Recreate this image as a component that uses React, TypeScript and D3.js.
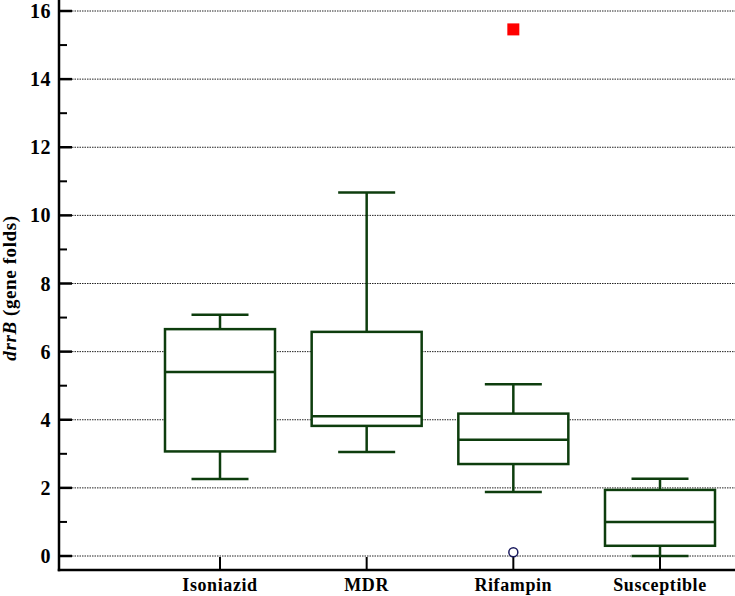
import React from "react";
import * as d3 from "d3";

const categories = ["Isoniazid", "MDR", "Rifampin", "Susceptible"];
const whiskerLow = [2.26, 3.05, 1.88, 0.0];
const q1 = [3.07, 3.82, 2.7, 0.3];
const median = [5.4, 4.1, 3.41, 1.0];
const q3 = [6.66, 6.58, 4.18, 1.94];
const whiskerHigh = [7.08, 10.67, 5.04, 2.27];
const outsideCategories = ["Rifampin"];
const outsideValues = [0.11];
const farOutCategories = ["Rifampin"];
const farOutValues = [15.46];
const yTicks = [0, 2, 4, 6, 8, 10, 12, 14, 16];
const yMinorTicks = [1, 3, 5, 7, 9, 11, 13, 15];

const W = 735;
const H = 596;
const BOX = "#0d3d0d";
const FONT = "'Liberation Serif', 'Times New Roman', serif";

export default function App() {
  const y = d3.scaleLinear().domain([0, 16]).range([556, 11]);
  const x = d3.scalePoint<string>().domain(categories).range([220, 660]);
  const axisX = 59;
  const axisY = 570;
  const boxHalf = 55;
  const capHalf = 28.5;

  return (
    <svg
      width={W}
      height={H}
      style={{ position: "absolute", left: 0, top: 0, background: "#fff" }}
    >
      {/* gridlines */}
      {yTicks.map((t) => (
        <line
          key={"g" + t}
          x1={72}
          x2={W}
          y1={y(t)}
          y2={y(t)}
          stroke="#222"
          strokeWidth={1}
          strokeDasharray="1.5,1"
        />
      ))}
      {/* axes */}
      <line x1={axisX} x2={axisX} y1={0} y2={axisY + 1.25} stroke="#000" strokeWidth={2.5} />
      <line x1={axisX - 1.25} x2={W} y1={axisY} y2={axisY} stroke="#000" strokeWidth={2.5} />
      {yTicks.map((t) => (
        <g key={"t" + t}>
          <line x1={axisX} x2={72} y1={y(t)} y2={y(t)} stroke="#000" strokeWidth={2.5} />
          <text
            x={51}
            y={y(t)}
            textAnchor="end"
            dominantBaseline="central"
            fontFamily={FONT}
            fontWeight="bold"
            fontSize={20}
            letterSpacing={0.5}
          >
            {t}
          </text>
        </g>
      ))}
      {yMinorTicks.map((t) => (
        <line key={"m" + t} x1={axisX} x2={67} y1={y(t)} y2={y(t)} stroke="#000" strokeWidth={2} />
      ))}
      {/* x ticks and labels */}
      {categories.map((c) => (
        <g key={"x" + c}>
          <line x1={x(c)} x2={x(c)} y1={axisY} y2={axisY - 13} stroke="#000" strokeWidth={2} />
          <text
            x={x(c)}
            y={591}
            textAnchor="middle"
            fontFamily={FONT}
            fontWeight="bold"
            fontSize={18}
            letterSpacing={0.6}
          >
            {c}
          </text>
        </g>
      ))}
      {/* y label */}
      <text
        transform={`translate(16,288) rotate(-90)`}
        textAnchor="middle"
        fontFamily={FONT}
        fontWeight="bold"
        fontSize={19}
        letterSpacing={0.6}
      >
        <tspan fontStyle="italic">drrB</tspan> (gene folds)
      </text>
      {/* boxes */}
      {categories.map((c, i) => {
        const cx = x(c)!;
        return (
          <g key={"b" + c} stroke={BOX} strokeWidth={2.5} fill="none">
            <line x1={cx} x2={cx} y1={y(whiskerHigh[i])} y2={y(q3[i])} />
            <line x1={cx} x2={cx} y1={y(q1[i])} y2={y(whiskerLow[i])} />
            <line x1={cx - capHalf} x2={cx + capHalf} y1={y(whiskerHigh[i])} y2={y(whiskerHigh[i])} />
            <line x1={cx - capHalf} x2={cx + capHalf} y1={y(whiskerLow[i])} y2={y(whiskerLow[i])} />
            <rect
              x={cx - boxHalf}
              y={y(q3[i])}
              width={boxHalf * 2}
              height={y(q1[i]) - y(q3[i])}
              fill="#fff"
            />
            <line x1={cx - boxHalf} x2={cx + boxHalf} y1={y(median[i])} y2={y(median[i])} />
          </g>
        );
      })}
      {/* outside values */}
      {outsideCategories.map((c, i) => (
        <circle
          key={"o" + i}
          cx={x(c)}
          cy={y(outsideValues[i])}
          r={4.5}
          fill="#fff"
          stroke="#1a1a5e"
          strokeWidth={1.5}
        />
      ))}
      {farOutCategories.map((c, i) => (
        <rect
          key={"f" + i}
          x={x(c)! - 6}
          y={y(farOutValues[i]) - 6}
          width={12}
          height={12}
          fill="#ff0000"
        />
      ))}
    </svg>
  );
}
